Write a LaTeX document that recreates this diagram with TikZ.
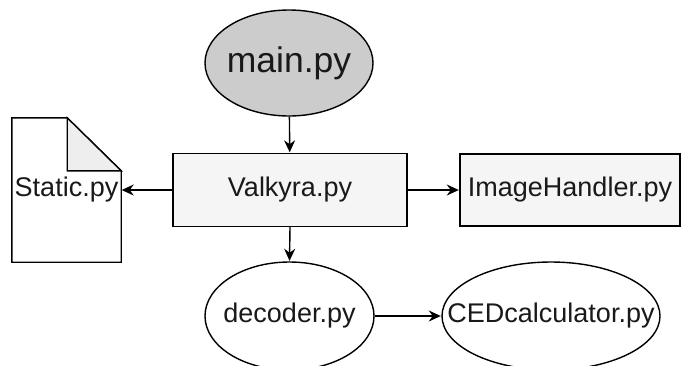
\documentclass[tikz,border=0pt]{standalone}
\usepackage{fontspec}
\setmainfont{Liberation Sans}
\usetikzlibrary{shapes.geometric,arrows.meta}
\definecolor{mainfill}{HTML}{CCCCCC}
\definecolor{boxfill}{HTML}{F5F5F5}
\definecolor{foldfill}{HTML}{EEEEEE}
\tikzset{
  labelfont/.style={font=\fontsize{27}{31}\selectfont, text=black!90},
  base/.style={draw=black, line width=1.4pt, inner sep=0pt, labelfont},
  % ellipse outline of fixed size; its text is placed as a centred label
  ellnode/.style={base, ellipse, minimum width=#1},
  boxnode/.style={base, rectangle, fill=boxfill},
  link/.style={line width=1.4pt, -{Stealth[length=12pt,width=11pt]}, shorten >=0.5pt}
}
\begin{document}
\begin{tikzpicture}[x=1pt,y=-1pt]
  \useasboundingbox (0,0) rectangle (682,365);

  % entry point
  \node[ellnode=168pt, fill=mainfill, minimum height=106pt,
        label={[font=\fontsize{35.5}{40}\selectfont, text=black!90]center:main.py}]
        (main) at (289,63) {};

  % core module
  \node[boxnode, minimum width=234pt, minimum height=73pt] (valk) at (290,190) {Valkyra.py};

  % image handling module
  \node[boxnode, minimum width=220pt, minimum height=72pt] (img) at (570,190) {ImageHandler.py};

  % static definitions file (document shape drawn around the node)
  \node[inner sep=0pt, minimum width=109pt, minimum height=144pt, labelfont]
        (static) at (66.5,190) {Static.py};
  \draw[line width=1.4pt, line join=miter]
    (static.north west) -- ([xshift=-54pt]static.north east)
    -- ([yshift=-53pt]static.north east) -- (static.south east)
    -- (static.south west) -- cycle;
  \draw[line width=1.4pt, fill=foldfill]
    ([xshift=-54pt]static.north east) -- ([yshift=-53pt]static.north east)
    -- ([xshift=-54pt,yshift=-53pt]static.north east) -- cycle;

  % decoding modules
  \node[ellnode=169pt, minimum height=108pt,
        label={[labelfont]center:decoder.py}] (dec) at (289.5,316) {};
  \node[ellnode=218pt, minimum height=108pt,
        label={[labelfont]center:CEDcalculator.py}] (ced) at (551,316) {};

  % dependencies
  \draw[link] (main) -- (valk);
  \draw[link] (valk.west) -- (static.east);
  \draw[link] (valk.east) -- (img.west);
  \draw[link] (valk.south) -- (dec.north);
  \draw[link] (dec.east) -- (ced.west);
\end{tikzpicture}
\end{document}
